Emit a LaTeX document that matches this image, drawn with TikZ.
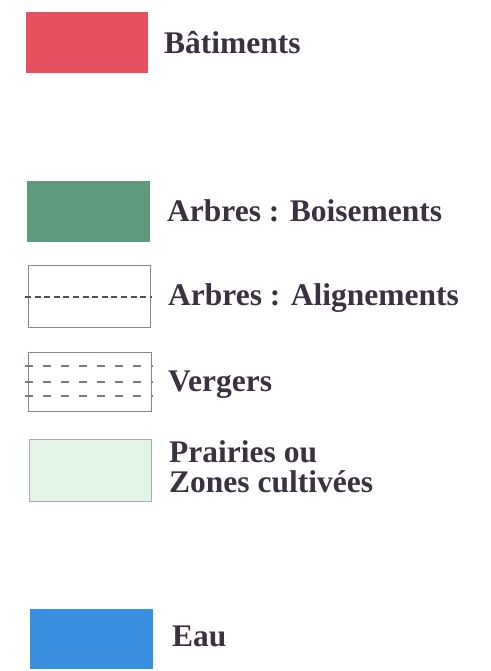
\documentclass[tikz,border=0pt]{standalone}
\usepackage{fontspec}
\setmainfont{Liberation Serif}
\definecolor{txt}{HTML}{3B3140}
\definecolor{batc}{HTML}{E8505F}
\definecolor{boic}{HTML}{5F9A7C}
\definecolor{prac}{HTML}{E2F4E5}
\definecolor{eauc}{HTML}{3A8EE0}
\definecolor{edge}{HTML}{8C8292}
\begin{document}
\begin{tikzpicture}[x=1bp,y=-1bp,
  lab/.style={anchor=base west,inner sep=0pt,text=txt,font=\fontsize{31.5bp}{29.5bp}\selectfont\bfseries,align=left},
  swatch/.style={draw=none},
  framed/.style={draw=edge,line width=0.9bp},
  aline/.style={draw=txt!85,line width=1.6bp,dash pattern=on 6bp off 3.6bp},
  vline/.style={draw=txt!65,line width=1.5bp,dash pattern=on 8bp off 10bp}]
\useasboundingbox (0,0) rectangle (491,671);
% Batiments
\path[swatch,fill=batc] (26,12) rectangle (148,73);
\node[lab] (bat) at (164,54) {Bâtiments};
% Boisements
\path[swatch,fill=boic] (27,181) rectangle (150,242);
\node[lab] (boi) at (167,221) {Arbres : Boisements};
% Alignements
\draw[framed] (28,265) rectangle (150,327);
\coordinate (al1) at (25,297);
\coordinate (al2) at (152,297);
\draw[aline] (al1) -- (al2);
\node[lab] (ali) at (168,305) {Arbres : Alignements};
% Vergers
\draw[framed] (28,352) rectangle (151,411);
\foreach \yy in {366,382,396}{
  \draw[vline] (25,\yy) -- (153,\yy);
}
\node[lab] (ver) at (168,391) {Vergers};
% Prairies
\draw[framed,draw=edge!70,fill=prac] (29,439) rectangle (151,501);
\node[lab] (pra) at (169,492) {Prairies ou\\Zones cultivées};
% Eau
\path[swatch,fill=eauc] (30,609) rectangle (153,669);
\node[lab] (eau) at (172,646) {Eau};
\end{tikzpicture}
\end{document}
